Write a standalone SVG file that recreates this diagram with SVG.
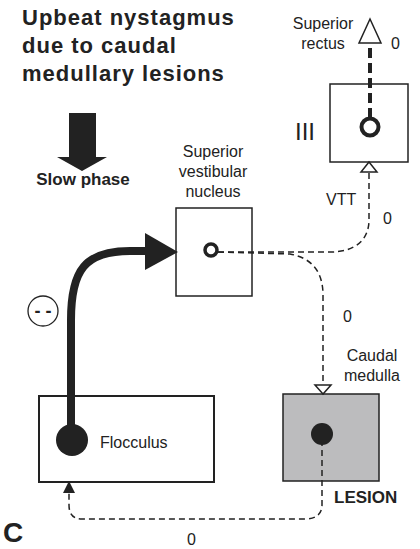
<svg xmlns="http://www.w3.org/2000/svg" width="420" height="549" viewBox="0 0 420 549">
<style>
text{font-family:"Liberation Sans",Arial,sans-serif;fill:#222;font-size:16px}
.b{font-weight:bold}
.title{font-weight:bold;font-size:22px;letter-spacing:1px}
.box{fill:#fff;stroke:#222;stroke-width:1.5}
.dash{fill:none;stroke:#222;stroke-width:1.5;stroke-dasharray:6 4}
.open{fill:#fff;stroke:#222;stroke-width:1.5}
</style>
<rect width="420" height="549" fill="#fff"/>
<g id="title">
<text class="title" x="22" y="25">Upbeat nystagmus</text>
<text class="title" x="22" y="53">due to caudal</text>
<text class="title" x="22" y="81">medullary lesions</text>
</g>
<g id="slow-phase">
<polygon points="69,113 96,113 96,157 107,157 82,171 57,157 69,157" fill="#222"/>
<text class="b" x="83" y="185" text-anchor="middle" style="font-size:17px">Slow phase</text>
</g>
<g id="superior-rectus">
<text x="323" y="29" text-anchor="middle">Superior</text>
<text x="323" y="49" text-anchor="middle">rectus</text>
<text x="391" y="49">0</text>
</g>
<g id="oculomotor-III">
<rect class="box" x="330" y="84" width="78" height="78"/>
<text x="295" y="140" style="font-size:24px">III</text>
</g>
<g id="superior-vestibular-nucleus">
<text x="213" y="157" text-anchor="middle">Superior</text>
<text x="213" y="177" text-anchor="middle">vestibular</text>
<text x="213" y="197" text-anchor="middle">nucleus</text>
<rect class="box" x="176" y="208" width="76" height="88"/>
</g>
<g id="labels">
<text x="326" y="205">VTT</text>
<text x="383" y="224">0</text>
<text x="343" y="322">0</text>
<text x="187" y="545">0</text>
</g>
<g id="inhibition">
<circle cx="43" cy="311" r="15" fill="#fff" stroke="#222" stroke-width="1.3"/>
<text class="b" x="43" y="317" text-anchor="middle" style="font-size:18px">- -</text>
</g>
<g id="caudal-medulla">
<text x="372" y="361" text-anchor="middle">Caudal</text>
<text x="372" y="381" text-anchor="middle">medulla</text>
<rect x="283" y="394" width="96" height="87" fill="#bcbcbe" stroke="#222" stroke-width="1.5"/>
<text class="b" x="334" y="503" style="font-size:17px">LESION</text>
</g>
<g id="flocculus">
<rect class="box" x="39" y="396" width="175" height="86" style="stroke-width:2"/>
<text x="100" y="448">Flocculus</text>
</g>
<g id="connectors">
<path d="M71,440 L71,320 C71,270 85,251 130,251 L148,251" fill="none" stroke="#222" stroke-width="8"/>
<polygon points="145,233 178,252 145,270" fill="#222"/>
<path d="M370,118 L370,44" fill="none" stroke="#222" stroke-width="4" stroke-dasharray="10 5"/>
<polygon class="open" points="370,19 359,43 381,43"/>
<path class="dash" d="M218,252 L330,252 C355,252 369,240 369,220 L369,172"/>
<polygon class="open" points="369,162 361,172 377,172"/>
<path class="dash" d="M218,252 L290,254 C312,258 323,272 323,295 L323,386"/>
<polygon class="open" points="323,394 315,385 331,385"/>
<path class="dash" d="M322,440 L322,505 C322,515 315,519 305,519 L82,519 C73,519 69,514 69,505 L69,493"/>
<polygon points="69,481 63,493 75,493" fill="#222"/>
</g>
<g id="neurons">
<circle cx="370" cy="127" r="8.5" fill="#fff" stroke="#222" stroke-width="4"/>
<circle cx="211" cy="250" r="6" fill="#fff" stroke="#222" stroke-width="3.5"/>
<circle cx="322" cy="434" r="11" fill="#222"/>
<circle cx="72" cy="440" r="16" fill="#222"/>
</g>
<g id="panel-label">
<text class="b" x="3" y="542" style="font-size:28px">C</text>
</g>
</svg>
